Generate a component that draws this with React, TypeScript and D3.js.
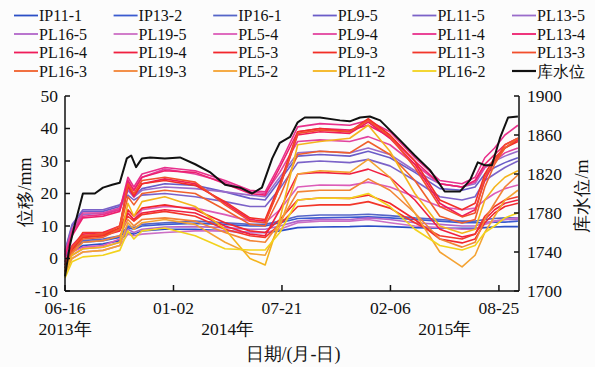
import React from "react";
import * as d3 from "d3";

// ---------- data ----------
const seriesNames = [
  "IP11-1", "IP13-2", "IP16-1", "PL9-5", "PL11-5", "PL13-5",
  "PL16-5", "PL19-5", "PL5-4", "PL9-4", "PL11-4", "PL13-4",
  "PL16-4", "PL19-4", "PL5-3", "PL9-3", "PL11-3", "PL13-3",
  "PL16-3", "PL19-3", "PL5-2", "PL11-2", "PL16-2",
];
const reservoirName = "库水位";

const seriesColors = [
  "#2b4fc6", "#3a5bd0", "#5565c8", "#6a5cc8", "#7b62c8", "#9a6ccb",
  "#b166c9", "#cc6fc5", "#dc5cb8", "#e2449f", "#e8308c", "#ee1f6e",
  "#ef1c5a", "#f02040", "#f2262c", "#f22e26", "#f2362a", "#f24e2c",
  "#f0602c", "#f28436", "#f4a232", "#f4b41c", "#f2d21c",
];

const dispDates = [
  "2013-06-16", "2013-06-29", "2013-07-19", "2013-08-25", "2013-09-25", "2013-10-10",
  "2013-10-21", "2013-11-05", "2013-12-17", "2014-02-11", "2014-04-07", "2014-05-23",
  "2014-06-20", "2014-07-17", "2014-08-19", "2014-09-29", "2014-11-23", "2014-12-27",
  "2015-02-05", "2015-03-23", "2015-05-08", "2015-06-18", "2015-07-12", "2015-07-30",
  "2015-08-17", "2015-09-05", "2015-09-29",
];

const IP11_1 = [0, 2, 4, 4.5, 5.5, 8, 7.5, 8.5, 9, 9, 8.5, 8, 8, 8.5, 9.5, 9.7, 9.8, 10, 9.8, 9.5, 9.3, 9.3, 9.3, 9.5, 9.7, 9.8, 9.8];
const IP13_2 = [0.5, 3, 5, 5.5, 6.5, 9.5, 9, 10, 10.5, 10.8, 10.5, 10, 10, 11, 12.3, 12.5, 12.7, 12.8, 12.5, 12, 11.5, 11, 11, 11, 11.2, 11.2, 11.5];
const IP16_1 = [1, 3.5, 5.5, 6, 7, 10, 9.5, 10.5, 11, 11.5, 11, 10.5, 10.5, 11.5, 13, 13.4, 13.4, 13.6, 13.2, 12.5, 12, 11.5, 11.5, 12, 12.3, 12.5, 12.5];
const PL9_5 = [2, 10, 14.5, 14.5, 16, 21, 19, 21.5, 23, 22.5, 20.5, 18.5, 18, 24, 31.5, 32, 31.5, 33, 31, 26.5, 21.5, 21, 22, 26, 28, 29.5, 31];
const PL11_5 = [2.5, 10.5, 15, 15, 16.5, 19.5, 18, 19.5, 20, 19, 17.5, 16, 16, 21.5, 29.5, 30, 29.5, 30.5, 28.5, 24, 19, 18, 19, 24, 26, 28, 30];
const PL13_5 = [1, 8.5, 13.5, 14, 15, 21, 19, 21, 22, 21.5, 20.5, 19.5, 19, 25, 32.5, 33, 32.5, 34, 32, 27, 23, 22, 23, 28, 30, 31.5, 33];
const PL16_5 = [-1, 1, 3, 3.5, 5, 9, 8, 9, 9.7, 9.8, 9.5, 9, 9, 10, 11.5, 12, 12, 12.5, 12, 11, 10.5, 10, 10, 11, 11.5, 12, 12];
const PL19_5 = [-2, 0, 2, 2.5, 4, 7.5, 7, 7.5, 8, 8.5, 8.5, 8, 8, 9, 11, 11.5, 11.5, 12, 11, 10, 9.5, 9, 9, 10.5, 11.5, 12, 12.5];
const PL5_4 = [0, 2, 3.5, 4, 6, 14, 12, 15, 16, 15.5, 13.5, 11.5, 11, 15, 22, 22.6, 22.5, 23.5, 22, 19, 16, 15, 15.5, 18, 20, 21.5, 22.6];
const PL9_4 = [1.5, 9, 14, 14, 15.5, 23.5, 21, 25, 27.5, 26, 23.5, 20.5, 20, 26.5, 36, 36.5, 36, 37.5, 35, 29, 23, 22, 23.5, 28, 30, 32.5, 34];
const PL11_4 = [1, 8, 13, 13.5, 15, 25, 22, 26, 28, 27, 24, 21, 20.5, 29, 40.5, 41.5, 41, 42.5, 39, 31, 24, 23, 25, 31, 34, 38, 41];
const PL13_4 = [0.5, 7, 12.5, 13, 14.5, 24, 21, 25, 27, 26.5, 23, 20, 19.5, 28, 39, 40, 39.5, 41, 37.5, 30, 23, 22, 24, 29, 32, 35, 37];
const PL16_4 = [-1, 4, 7.5, 8, 10, 22, 19, 23, 24.5, 23, 17, 12, 11.5, 22, 38, 39, 38.5, 42, 37, 29, 17, 13, 15, 24, 30, 34, 36.5];
const PL19_4 = [-2, 3, 6.5, 7, 8.5, 14, 12, 14, 15, 14, 10, 7.5, 7, 15, 26, 26.5, 26, 27.5, 25, 18, 9, 6.6, 7.5, 12, 15, 17, 18];
const PL5_3 = [-3, 2.5, 7, 7.5, 9, 15, 13, 15.5, 16.5, 15, 11, 8.5, 8, 12, 18, 18.6, 18.5, 19.5, 17, 12, 6, 4.8, 6, 11, 14, 16, 17];
const PL9_3 = [-2, 3, 6.5, 7, 9.5, 22.5, 19.5, 23, 24, 22.5, 17.5, 12.5, 12, 23, 39, 40, 39, 43, 38, 30, 18, 15, 17, 26, 31, 34, 36];
const PL11_3 = [-4, 3, 8, 8, 9, 13, 11.5, 13.5, 14.5, 13, 9, 7, 6.5, 10.5, 16, 16.5, 16.5, 17.5, 15.5, 11, 7, 6, 7.5, 13, 16, 18, 19];
const PL13_3 = [-3, 3.5, 7, 7.5, 10, 23, 20, 24, 25, 23.5, 16.5, 11.5, 11, 22, 38.5, 39.5, 39, 42.5, 37.5, 28, 16, 12.8, 14, 25, 30, 35, 37];
const PL16_3 = [-4, 2, 6, 6.5, 9, 19, 16.5, 20, 21, 20, 15, 10.5, 10, 19, 32, 33, 32.5, 36, 32, 24, 13, 10.9, 12, 22, 29, 34, 37];
const PL19_3 = [-3, 1.5, 5, 5.5, 7, 12, 10, 12, 12.5, 11.5, 8, 5.5, 5, 11, 20.5, 21, 21, 24.5, 21, 14, 6, 3.5, 5, 12, 17, 22, 25.7];
const PL5_2 = [-5, 0, 2, 2.5, 4, 11, 9, 11, 12, 10.5, 5, 1.5, 1, 10, 26, 27, 26.5, 30.5, 25, 14, 2, -2.6, 1, 8, 13, 18, 21];
const PL11_2 = [-4, 1, 3, 3.5, 5, 17, 13, 17.5, 19, 16, 9, 0, -2, 12, 35, 36, 37, 41, 33, 20, 10, 7.8, 9, 18, 22, 25, 27];
const PL16_2 = [-6, -1, 0.5, 1, 2.5, 8.5, 6, 8.5, 9.4, 7, 3, 2.6, 2.6, 8, 18, 18.6, 18.5, 20, 16, 9, 4, 2.6, 4, 8, 10, 12.5, 14];

const seriesValues = [
  IP11_1, IP13_2, IP16_1, PL9_5, PL11_5, PL13_5,
  PL16_5, PL19_5, PL5_4, PL9_4, PL11_4, PL13_4,
  PL16_4, PL19_4, PL5_3, PL9_3, PL11_3, PL13_3,
  PL16_3, PL19_3, PL5_2, PL11_2, PL16_2,
];

const reservoirDates = [
  "2013-06-16", "2013-06-25", "2013-07-04", "2013-07-19", "2013-08-10", "2013-08-25",
  "2013-09-11", "2013-09-25", "2013-10-08", "2013-10-16", "2013-10-25", "2013-11-05",
  "2013-11-20", "2013-12-17", "2014-01-14", "2014-02-11", "2014-03-10", "2014-04-07",
  "2014-05-05", "2014-05-27", "2014-06-14", "2014-07-03", "2014-07-17", "2014-08-05",
  "2014-08-19", "2014-09-01", "2014-09-29", "2014-11-05", "2014-11-23", "2014-12-12",
  "2014-12-30", "2015-01-18", "2015-02-05", "2015-02-23", "2015-03-23", "2015-04-20",
  "2015-05-17", "2015-06-14", "2015-07-03", "2015-07-17", "2015-07-30", "2015-08-12",
  "2015-08-27", "2015-09-11", "2015-09-29",
];
const reservoirLevels = [
  1715, 1747, 1768, 1800, 1800, 1806, 1809, 1811, 1836, 1839, 1827, 1836, 1837, 1836, 1837,
  1830, 1822, 1809, 1806, 1800, 1806, 1836, 1852, 1858, 1873, 1878, 1878, 1875, 1874, 1878,
  1879, 1875, 1865, 1855, 1839, 1824, 1802, 1802, 1814, 1832, 1829, 1829, 1857, 1878, 1879,
];

const xTickDates = ["2013-06-16", "2014-01-02", "2014-07-21", "2015-02-06", "2015-08-25"];
const xTickLabels = ["06-16", "01-02", "07-21", "02-06", "08-25"];
const yearLabels = ["2013年", "2014年", "2015年"];
const yLeftTicks = [-10, 0, 10, 20, 30, 40, 50];
const yRightTicks = [1700, 1740, 1780, 1820, 1860, 1900];

const FONT = '"Liberation Serif"';

export default function App() {
  const parse = d3.timeParse("%Y-%m-%d");
  const x = d3
    .scaleTime()
    .domain([parse("2013-06-16") as Date, parse("2015-10-01") as Date])
    .range([65, 519]);
  const yL = d3.scaleLinear().domain([-10, 50]).range([291, 96]);
  const yR = d3.scaleLinear().domain([1700, 1900]).range([291, 96]);

  const dDates = dispDates.map((d) => parse(d) as Date);
  const rDates = reservoirDates.map((d) => parse(d) as Date);

  const lineL = d3
    .line<number>()
    .x((_, i) => x(dDates[i]))
    .y((v) => yL(v));
  const lineR = d3
    .line<number>()
    .x((_, i) => x(rDates[i]))
    .y((v) => yR(v));

  const [x0, x1] = x.range();
  const [yBottom, yTop] = yL.range();

  const legendItems = [
    ...seriesNames.map((n, i) => ({ name: n, color: seriesColors[i], w: 1.8 })),
    { name: reservoirName, color: "#111", w: 2.2 },
  ];

  const yearX = [
    x(parse(xTickDates[0]) as Date),
    (x(parse(xTickDates[1]) as Date) + x(parse(xTickDates[2]) as Date)) / 2,
    (x(parse(xTickDates[3]) as Date) + x(parse(xTickDates[4]) as Date)) / 2,
  ];

  const ts = { fontFamily: FONT };

  return (
    <svg width={595} height={367} style={{ position: "absolute", left: 0, top: 0, background: "#fcfcfc" }}>
      {/* legend */}
      {legendItems.map((it, i) => {
        const col = i % 6;
        const row = Math.floor(i / 6);
        const lx = 14 + col * 99.6;
        const ly = 15.5 + row * 18.5;
        return (
          <g key={it.name}>
            <line x1={lx} x2={lx + 24} y1={ly} y2={ly} stroke={it.color} strokeWidth={it.w} />
            <text x={lx + 25} y={ly} dy="0.35em" fontSize={16} fill="#111" style={ts}>
              {it.name}
            </text>
          </g>
        );
      })}

      {/* data lines */}
      <g fill="none" strokeLinejoin="round">
        {seriesValues.map((vals, i) => (
          <path key={seriesNames[i]} d={lineL(vals) || ""} stroke={seriesColors[i]} strokeWidth={1.6} />
        ))}
        <path d={lineR(reservoirLevels) || ""} stroke="#111" strokeWidth={2} />
      </g>

      {/* axes */}
      <g stroke="#111" strokeWidth={1.5} fill="none">
        <line x1={x0} x2={x0} y1={yTop} y2={yBottom} />
        <line x1={x1} x2={x1} y1={yTop} y2={yBottom} />
        <line x1={x0} x2={x1} y1={yBottom} y2={yBottom} />
        {yLeftTicks.map((t) => (
          <line key={"l" + t} x1={x0} x2={x0 + 5} y1={yL(t)} y2={yL(t)} />
        ))}
        {yRightTicks.map((t) => (
          <line key={"r" + t} x1={x1} x2={x1 - 5} y1={yR(t)} y2={yR(t)} />
        ))}
        {xTickDates.map((d) => (
          <line key={d} x1={x(parse(d) as Date)} x2={x(parse(d) as Date)} y1={yBottom} y2={yBottom - 6} />
        ))}
      </g>

      {/* tick labels */}
      <g fontSize={17.5} fill="#111">
        {yLeftTicks.map((t) => (
          <text key={"lt" + t} x={x0 - 7} y={yL(t)} dy="0.32em" textAnchor="end" style={ts}>
            {t}
          </text>
        ))}
        {yRightTicks.map((t) => (
          <text key={"rt" + t} x={x1 + 8} y={yR(t)} dy="0.35em" textAnchor="start" style={ts}>
            {t}
          </text>
        ))}
        {xTickDates.map((d, i) => (
          <text key={"xt" + d} x={x(parse(d) as Date)} y={314} textAnchor="middle" style={ts}>
            {xTickLabels[i]}
          </text>
        ))}
        {yearLabels.map((y, i) => (
          <text key={y} x={yearX[i]} y={335} textAnchor="middle" style={ts}>
            {y}
          </text>
        ))}
      </g>

      {/* axis titles */}
      <text
        transform={`translate(31, 192) rotate(-90)`}
        textAnchor="middle"
        fontSize={18}
        fill="#111"
        style={ts}
      >
        位移/mm
      </text>
      <text
        transform={`translate(588, 196) rotate(-90)`}
        textAnchor="middle"
        fontSize={18}
        fill="#111"
        style={ts}
      >
        库水位/m
      </text>
      <text x={293} y={360} textAnchor="middle" fontSize={18} fill="#111" style={ts}>
        日期/(月-日)
      </text>
    </svg>
  );
}
